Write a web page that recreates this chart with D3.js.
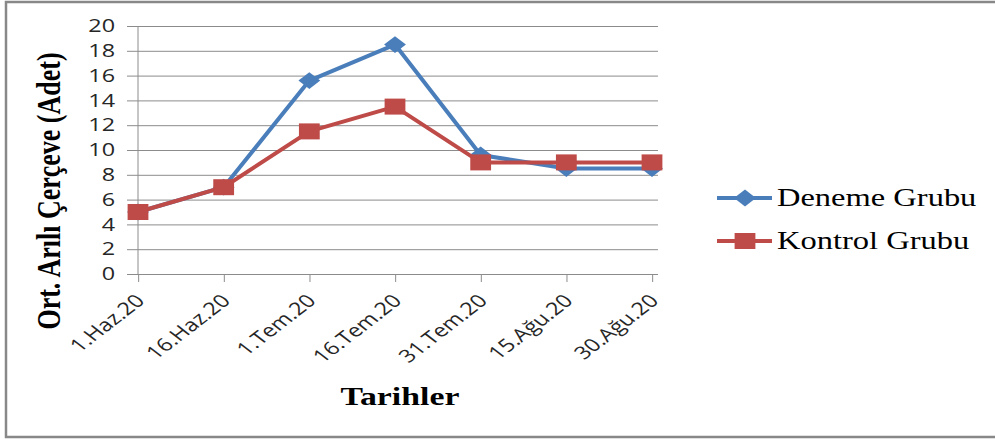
<!DOCTYPE html>
<html>
<head>
<meta charset="utf-8">
<script src="https://cdn.jsdelivr.net/npm/d3@7"></script>
<style>
  body { margin: 0; background: #fff; }
  svg { display: block; }
</style>
</head>
<body>
<div id="chart"></div>
<script>
// data
const dates = ["1.Haz.20", "16.Haz.20", "1.Tem.20", "16.Tem.20", "31.Tem.20", "15.Ağu.20", "30.Ağu.20"];
const deneme = [5, 7, 15.6, 18.5, 9.6, 8.5, 8.5];
const kontrol = [5, 7, 11.5, 13.5, 9, 9, 9];
const yTicks = [0, 2, 4, 6, 8, 10, 12, 14, 16, 18, 20];
const seriesNames = ["Deneme Grubu", "Kontrol Grubu"];

const width = 995, height = 441;
// the original chart was stretched sideways, so draw in a narrower
// viewBox and let the svg stretch it back
const sx = 1.3;
const vw = width / sx;

const blue = "#4a7ebb", red = "#be4b48", grid = "#8c8c8c";

const svg = d3.select("#chart").append("svg")
    .attr("width", width)
    .attr("height", height)
    .attr("viewBox", `0 0 ${vw} ${height}`)
    .attr("preserveAspectRatio", "none");

// outer frame (right edge is cut off in the original)
svg.append("rect")
    .attr("x", 6 / sx).attr("y", 2)
    .attr("width", vw).attr("height", 435)
    .attr("fill", "none")
    .attr("stroke", "#888")
    .attr("stroke-width", 2.5)
    .attr("vector-effect", "non-scaling-stroke");

const x = d3.scalePoint().domain(dates).range([138 / sx, 652 / sx]);
const y = d3.scaleLinear().domain([0, 20]).range([274, 26]);

const gridLeft = 127 / sx, gridRight = 658 / sx;

// y axis: ticks drawn as full gridlines
const yAxis = svg.append("g")
    .attr("transform", `translate(${gridRight},0)`)
    .call(d3.axisLeft(y).tickValues(yTicks).tickSizeInner(gridRight - gridLeft).tickSizeOuter(0).tickPadding(12 / sx));
yAxis.select(".domain").remove();
yAxis.selectAll(".tick line")
    .attr("stroke", grid)
    .attr("vector-effect", "non-scaling-stroke");
yAxis.selectAll(".tick text")
    .attr("font-family", "'Open Sans', sans-serif")
    .attr("font-size", 18)
    .attr("fill", "#262626");

// vertical axis line
svg.append("line")
    .attr("x1", x(dates[0])).attr("x2", x(dates[0]))
    .attr("y1", y(20)).attr("y2", y(0))
    .attr("stroke", grid)
    .attr("vector-effect", "non-scaling-stroke");

// x axis ticks
const xAxis = svg.append("g")
    .attr("transform", `translate(0,${y(0)})`)
    .call(d3.axisBottom(x).tickSizeInner(8).tickSizeOuter(0).tickFormat(""));
xAxis.select(".domain").remove();
xAxis.selectAll(".tick line")
    .attr("stroke", grid)
    .attr("vector-effect", "non-scaling-stroke");

// rotated date labels
svg.append("g").selectAll("text")
    .data(dates)
    .enter().append("text")
    .attr("transform", d => `translate(${x(d) + 8 / sx},302) rotate(-45)`)
    .attr("text-anchor", "end")
    .attr("font-family", "'Open Sans', sans-serif")
    .attr("font-size", 18)
    .attr("fill", "#262626")
    .text(d => d);

// series
const series = [
    { name: seriesNames[0], values: deneme, color: blue, symbol: d3.symbolDiamond2, size: 180 },
    { name: seriesNames[1], values: kontrol, color: red, symbol: d3.symbolSquare, size: 256 }
];

const line = d3.line()
    .x((d, i) => x(dates[i]))
    .y(d => y(d));

series.forEach(s => {
    svg.append("path")
        .datum(s.values)
        .attr("d", line)
        .attr("fill", "none")
        .attr("stroke", s.color)
        .attr("stroke-width", 4)
        .attr("stroke-linejoin", "round")
        .attr("vector-effect", "non-scaling-stroke");

    svg.append("g").selectAll("path")
        .data(s.values)
        .enter().append("path")
        .attr("transform", (d, i) => `translate(${x(dates[i])},${y(d)})`)
        .attr("d", d3.symbol().type(s.symbol).size(s.size))
        .attr("fill", s.color);
});

// legend
const legend = svg.append("g");
series.forEach((s, i) => {
    const ly = 198 + i * 43;
    legend.append("line")
        .attr("x1", 717 / sx).attr("x2", 772 / sx)
        .attr("y1", ly).attr("y2", ly)
        .attr("stroke", s.color)
        .attr("stroke-width", 4)
        .attr("vector-effect", "non-scaling-stroke");
    legend.append("path")
        .attr("transform", `translate(${745 / sx},${ly})`)
        .attr("d", d3.symbol().type(s.symbol).size(s.size))
        .attr("fill", s.color);
    legend.append("text")
        .attr("x", 777 / sx).attr("y", ly + 8)
        .attr("font-family", "'Liberation Serif', 'Times New Roman', serif")
        .attr("font-size", 25)
        .attr("fill", "#000")
        .text(s.name);
});

// axis titles
svg.append("text")
    .attr("transform", `translate(${60 / sx},191) rotate(-90)`)
    .attr("text-anchor", "middle")
    .attr("font-family", "'Liberation Serif', 'Times New Roman', serif")
    .attr("font-weight", "bold")
    .attr("font-size", 26)
    .text("Ort. Arılı Çerçeve (Adet)");

svg.append("text")
    .attr("x", 400 / sx).attr("y", 405)
    .attr("text-anchor", "middle")
    .attr("font-family", "'Liberation Serif', 'Times New Roman', serif")
    .attr("font-weight", "bold")
    .attr("font-size", 26)
    .text("Tarihler");
</script>
</body>
</html>
